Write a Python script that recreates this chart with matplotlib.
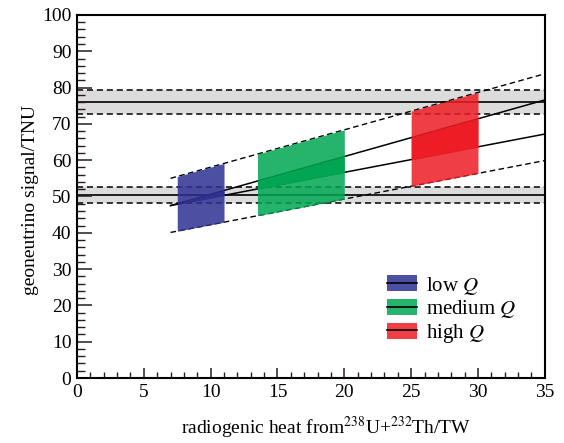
import numpy as np
import matplotlib
matplotlib.use("Agg")
import matplotlib.pyplot as plt
from matplotlib.patches import Patch
from matplotlib.lines import Line2D
from matplotlib.ticker import MultipleLocator

plt.rcParams['font.family'] = ['Liberation Serif', 'DejaVu Serif']
plt.rcParams['mathtext.fontset'] = 'stix'

# ---- data ----
heat_line = [7.0, 35.0]
upper_dashed = [55.0, 83.8]
upper_solid = [47.5, 76.6]
lower_solid = [47.5, 67.2]
lower_dashed = [40.1, 59.9]

band_center = [75.9, 50.4]
band_low = [72.6, 48.3]
band_high = [79.2, 52.5]

group_names = ['low $Q$', 'medium $Q$', 'high $Q$']
group_heat_min = [7.5, 13.5, 25.0]
group_heat_max = [11.0, 20.0, 30.0]
group_colors = ['#2E3192', '#00A651', '#ED1C24']

fig = plt.figure(figsize=(5.64, 4.43), dpi=100)
ax = fig.add_axes([0.1365, 0.1467, 0.8295, 0.8195])

# horizontal bands
for c, lo, hi in zip(band_center, band_low, band_high):
    ax.axhspan(lo, hi, color='#dcdcdc', lw=0, zorder=0.5)
    ax.axhline(c, color='black', lw=1.2, zorder=1)
    ax.axhline(lo, color='black', lw=1.1, ls=(0, (4, 2.5)), zorder=1)
    ax.axhline(hi, color='black', lw=1.1, ls=(0, (4, 2.5)), zorder=1)

# sloped lines
ax.plot(heat_line, upper_solid, color='black', lw=1.1, zorder=1)
ax.plot(heat_line, lower_solid, color='black', lw=1.1, zorder=1)
ax.plot(heat_line, upper_dashed, color='black', lw=1.0, ls=(0, (4, 2.5)), zorder=1)
ax.plot(heat_line, lower_dashed, color='black', lw=1.0, ls=(0, (4, 2.5)), zorder=1)

handles = []
for name, x0, x1, col in zip(group_names, group_heat_min, group_heat_max, group_colors):
    xs = np.linspace(x0, x1, 50)
    ud = np.interp(xs, heat_line, upper_dashed)
    us = np.interp(xs, heat_line, upper_solid)
    ls_ = np.interp(xs, heat_line, lower_solid)
    ld = np.interp(xs, heat_line, lower_dashed)
    ax.fill_between(xs, ld, ud, color=col, alpha=0.85, lw=0, zorder=2)
    ax.fill_between(xs, ls_, us, color=col, alpha=0.95, lw=0, zorder=2.1)
    handles.append((Patch(facecolor=col, alpha=0.85, lw=0),
                    Line2D([], [], color='black', lw=1.2)))

ax.legend(handles, group_names, loc='upper left', bbox_to_anchor=(0.663, 0.285),
          frameon=False, fontsize=15, handlelength=1.45, handleheight=0.8,
          labelspacing=0.08, handletextpad=0.4, borderpad=0.0, borderaxespad=0.0)

ax.set_xlim(0, 35)
ax.set_ylim(0, 100)
ax.xaxis.set_major_locator(MultipleLocator(5))
ax.xaxis.set_minor_locator(MultipleLocator(1))
ax.yaxis.set_major_locator(MultipleLocator(10))
ax.yaxis.set_minor_locator(MultipleLocator(2))
ax.tick_params(axis='both', which='both', direction='in', top=False, right=False,
               labelsize=14, color='#2a1a1a', pad=4)
ax.tick_params(axis='x', which='major', length=7, width=1.1)
ax.tick_params(axis='x', which='minor', length=4, width=1.0)
ax.tick_params(axis='y', which='major', length=11, width=1.1)
ax.tick_params(axis='y', which='minor', length=6, width=1.0)
for s in ax.spines.values():
    s.set_linewidth(1.5)

ax.set_xlabel('radiogenic heat from$^{238}$U+$^{232}$Th/TW', fontsize=14, labelpad=10, x=0.532)
ax.set_ylabel('geoneutrino signal/TNU', fontsize=14, labelpad=2, y=0.49)

fig.savefig('out.png', dpi=100)
